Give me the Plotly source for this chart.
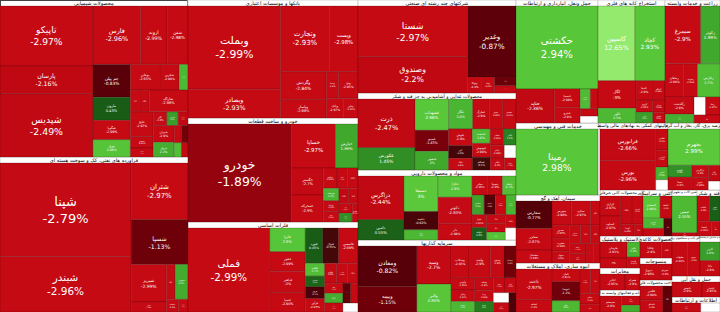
import math
import plotly.graph_objects as go

sector_names = [
    "محصولات شیمیایی",
    "فراورده های نفتی، کک و سوخت هسته ای",
    "بانکها و موسسات اعتباری",
    "خودرو و ساخت قطعات",
    "فلزات اساسی",
    "شرکتهای چند رشته ای صنعتی",
    "محصولات غذایی و آشامیدنی به جز قند و شکر",
    "مواد و محصولات دارویی",
    "سرمایه گذاریها",
    "حمل ونقل، انبارداری و ارتباطات",
    "استخراج کانه های فلزی",
    "زراعت و خدمات وابسته",
    "خدمات فنی و مهندسی",
    "سیمان، آهک و گچ",
    "انبوه سازی، املاک و مستغلات",
    "فعالیتهای کمکی به نهادهای مالی واسط",
    "عرضه برق، گاز، بخار و آب گرم",
    "سایر محصولات کانی غیرفلزی",
    "کاشی و سرامیک",
    "ماشین آلات و تجهیزات",
    "قند و شکر",
    "لاستیک و پلاستیک",
    "مخابرات",
    "رایانه و فعالیتهای وابسته به آن",
    "محصولات کاغذی",
    "منسوجات",
    "ساخت محصولات فلزی",
    "ماشین آلات و دستگاههای برقی",
    "بیمه و صندوق بازنشستگی",
    "حمل و نقل آبی",
    "اطلاعات و ارتباطات",
]

sector_caps = [29516, 29140, 20060, 17680, 15300, 14694, 12166, 11060, 11376,
               10086, 8241, 6765, 6048, 5712, 4116, 4556, 3484,
               1978, 1334, 1150, 1058, 1280, 880, 880, 704, 704, 1024,
               1120, 800, 1008, 720]

stock_symbols = [
    ["تاپیکو", "پارسان", "شپدیس", "فارس", "اروند", "شفن", "جم پیلن", "مارون", "شگویا", "نوری",
     "بوعلی", "شکربن", "شکلر", "شسینا", "شلعاب", "شاراک", "خلیج", "شبصیر", "شصدف", "کلر",
     "شدوص", "شپارس", "شیران", "پترول", "شفارس", "شاملا", "شکام", "شتوکا"],
    ["شپنا", "شبندر", "شتران", "شسپا", "شبریز", "شراز", "شاوان", "شبهرن", "شنفت", "شرانل"],
    ["وبملت", "وبصادر", "وتجارت", "وپست", "وگردش", "وپاسار", "وسینا", "ودی", "وبانک", "وخاور"],
    ["خودرو", "خساپا", "خپارس", "خگستر", "خمحرکه", "خکاوه", "خفنر", "خوساز", "خریخت", "خزامیا",
     "ختور", "خمهر", "خچرخش", "خاور", "خرینگ", "خشرق"],
    ["فملی", "فایرا", "فخوز", "فباهنر", "فسپا", "فنورد", "فنوال", "فاسمین", "فکاوه", "فگستر",
     "فروی", "فرآور", "فالوم", "فسرب", "فپنتا", "فاما", "فزرین", "فلوله", "فجام", "فافزا", "فوکا"],
    ["شستا", "وصندوق", "وغدیر", "وتوکا", "وصنا", "وپترو", "وتوشه"],
    ["ذرت", "غکورش", "غشهداب", "غمینو", "غبشهر", "غگل", "غمارگ", "غپینو", "غصینو", "غنوش",
     "غزر", "غپاک", "غدشت", "غبهنوش", "غسالم", "غشان", "غاذر", "غدام", "غپآذر", "غفارس", "غویتا"],
    ["دزاگرس", "دامین", "دسبحا", "دعبید", "دالبر", "دفارا", "دکوثر", "دلر", "دجابر", "دسینا",
     "دتماد", "دکیمی", "داسوه", "دشیمی", "دپارس", "دفرا", "دتولید", "درازک", "دیران", "دکپسول",
     "دتوزیع", "دالحاوی"],
    ["ومعادن", "وبیمه", "وسپه", "والبر", "وسکاب", "وامید", "وسپهر", "وسمان", "وآتوس", "ونیکی",
     "وسالت", "وملت", "ورنا", "وساپا", "وسنا", "وکار", "وبوعلی", "وثوق", "وسبحان"],
    ["حکشتی", "حتاید", "حسینا", "حپترو", "حفارس", "حآسا", "حریل", "حپارسا"],
    ["کاسپین", "کچاد", "کگل", "کگهر", "کدما", "کمنگنز", "کروی", "کنور", "کزغال", "کطبس"],
    ["سیمرغ", "زکوثر", "زماهان", "زشریف", "زفارس", "زگلدشت", "زملارد", "زدشت", "زبینا", "زپارس"],
    ["رمپنا", "ریشمک"],
    ["سفارس", "سخزر", "سشمال", "سهرمز", "سکرد", "ساوه", "سدور", "سغرب", "سبهان", "سصوفی",
     "ستران", "سخاش", "سپاها", "سقاین", "سارود", "سیلام"],
    ["ثاخت", "ثشاهد", "ثامان", "ثنوسا", "ثباغ", "ثعمرا", "ثپردیس", "ثمسکن", "ثغرب"],
    ["فرابورس", "بورس", "اطلس", "کارگزاری", "امین", "ثبات"],
    ["بجهرم", "بکهنوج", "بمپنا", "بزاگرس", "بنیرو", "بتک", "بپیوند"],
    ["کرازی", "کساوه", "کفرا", "کسرام", "کهمدا", "کباده"],
    ["کسعدی", "کحافظ", "کمرجان", "کپرور", "کسرا"],
    ["تپمپی", "تکنو"],
    ["قثابت", "قشیر", "قنیشا", "قپیرا"],
    ["پکرمان", "پاکشو", "پتایر", "پلاست"],
    ["اخابر", "همراه"],
    ["سیستم", "مفاخر", "رتکو"],
    ["چکاپا", "چفیبر"],
    ["نبروج", "نمرینو"],
    ["فلامی", "تاصیکو", "فسازان"],
    ["بشهاب", "بموتو"],
    ["البرز", "دانا"],
    ["حسیر", "حبندر"],
    ["اپرداز", "افق"],
]

stock_weights = [
    [5400, 2500, 5700, 2700, 1500, 1180, 1190, 840, 700, 630, 735, 480, 220, 200, 200, 816, 550,
     250, 200, 180, 150, 130, 340, 300, 120, 110, 100, 90],
    [12100, 7180, 3190, 2500, 1300, 350, 300, 450, 150, 120],
    [7371, 2548, 3072, 1792, 1216, 800, 312, 494, 325, 273],
    [9476, 1806, 924, 800, 800, 260, 200, 200, 180, 160, 150, 140, 130, 120, 110, 100],
    [6642, 810, 675, 729, 660, 600, 540, 660, 240, 200, 220, 250, 230, 210, 200, 180, 170, 160,
     150, 140, 130],
    [5390, 3850, 3337, 220, 200, 180, 150],
    [2784, 1276, 1050, 700, 630, 725, 500, 400, 396, 396, 300, 280, 260, 250, 230, 220, 200, 180,
     170, 150, 140],
    [2021, 940, 1221, 630, 350, 728, 910, 552, 300, 280, 260, 240, 220, 210, 200, 190, 180, 170,
     160, 150, 140, 130],
    [2470, 1560, 1350, 990, 594, 700, 450, 400, 300, 280, 260, 240, 220, 200, 180, 170, 160, 150, 140],
    [6720, 1290, 475, 400, 200, 150, 130, 120],
    [2738, 2220, 1036, 558, 300, 250, 200, 180, 150, 130],
    [1995, 1080, 594, 450, 720, 480, 250, 200, 250, 200],
    [5229, 120],
    [960, 750, 450, 450, 450, 220, 220, 220, 200, 200, 180, 170, 160, 150, 140, 120],
    [1050, 420, 340, 506, 300, 250, 220, 200, 150],
    [1696, 1590, 250, 200, 150, 120],
    [1849, 276, 300, 200, 200, 180, 100],
    [400, 400, 300, 300, 150, 100],
    [360, 250, 200, 150, 140],
    [920, 80],
    [300, 250, 200, 120],
    [400, 250, 180, 130],
    [350, 210],
    [300, 150, 110],
    [300, 148],
    [250, 198],
    [300, 250, 218],
    [500, 396],
    [350, 290],
    [500, 300],
    [300, 200],
]

stock_changes = [
    [-2.97, -2.16, -2.49, -2.96, -2.99, -2.98, -0.83, 0.43, -2.99, 2.86, -2.93, -2.98, 2.5, -2.9,
     -2.95, -2.98, -2.97, -2.92, -2.96, -2.8, 1.8, -2.6, -2.9, 2.2, -2.9, -1.2, 2.7, -2.98],
    [-2.79, -2.96, -2.97, -1.13, -2.99, -2.98, -2.98, 2.1, -2.9, -2.95],
    [-2.99, -2.93, -2.93, -2.98, -2.84, -2.99, -2.9, -2.95, -2.97, -2.92],
    [-1.89, -2.97, 1.99, -2.7, -2.9, -2.95, -2.9, -2.98, 2.4, -2.92, -2.96, -2.6, -2.99, -2.9, 1.5, -2.97],
    [-2.99, 2.9, -2.99, -3.0, -2.96, 0.45, -0.55, -2.99, 2.7, 0.6, -0.7, -2.95, -2.9, -2.98, -2.94,
     -2.9, 2.2, -2.97, -0.9, -2.99, None],
    [-2.97, -2.2, -0.87, -2.9, -2.95, -1.0, -2.98],
    [-2.47, 1.45, 2.98, -1.45, 2.0, 2.4, -2.9, -2.95, -2.97, -2.9, -0.6, -2.8, 2.6, -2.99, -0.5,
     -2.93, 1.2, -2.96, -2.9, None, -2.98],
    [-2.44, 0.55, 3.0, -0.62, 2.5, 2.9, -2.83, -2.99, -2.95, -2.9, 2.7, 1.9, -0.8, -2.97, 2.4,
     -2.92, 0.5, -2.98, -2.9, 2.8, -2.96, None],
    [-0.82, -1.15, -2.7, 2.95, -2.85, -2.9, -2.8, -1.2, -2.95, -2.97, 2.5, -2.9, -2.99, 1.1, -2.93,
     -2.9, None, -2.96, -0.7],
    [2.94, -2.36, -2.99, -2.9, 2.6, -2.95, -2.9, None],
    [12.65, 2.93, -3.0, 2.5, -2.9, -2.99, -2.95, 1.8, -2.98, -2.9],
    [-2.9, 1.99, -2.99, -2.95, 2.7, -2.9, 2.2, None, -2.97, -2.9],
    [2.98, None],
    [-0.77, -2.87, -2.99, -2.98, -2.97, -2.99, -2.95, -2.98, -2.9, -2.96, -2.99, -2.93, -2.97,
     -2.9, -2.98, -2.95],
    [-2.97, -2.9, -2.95, -1.2, 2.5, -2.98, -2.9, -2.96, -2.99],
    [-2.66, -2.96, -2.9, -2.95, 2.3, None],
    [2.99, 1.5, -2.8, -2.9, -2.95, -2.5, None],
    [-2.97, -2.97, -2.88, -2.9, -2.95, -2.9],
    [2.98, -2.9, 2.5, -2.95, -0.8],
    [2.55, -2.9],
    [-2.9, 0.5, -2.95, -2.9],
    [-2.93, -2.9, 2.4, -2.97],
    [-2.95, -2.9],
    [-2.9, -2.97, 2.1],
    [-2.9, -2.95],
    [-2.96, -2.9],
    [-2.98, -2.9, -0.9],
    [-2.99, -2.9],
    [1.8, -2.9],
    [-2.9, -2.95],
    [-2.95, None],
]

W, H = 720, 312
HEADER = 6  # header band thickness (px) of each sector
PADDING = "\u00a0" * 5  # keeps shrunken header texts inside their own band

COLOR_STOPS = [
    (-3.0, (198, 10, 20)), (-2.1, (190, 8, 18)), (-1.8, (132, 2, 12)), (-1.0, (106, 0, 10)),
    (-0.7, (76, 0, 8)), (0.0, (42, 36, 12)), (0.3, (22, 85, 20)), (1.0, (35, 120, 30)),
    (2.0, (64, 168, 45)), (3.0, (90, 200, 58)), (13.0, (150, 235, 110)),
]


def change_color(p):
    if p is None:
        return "rgb(255,255,255)"
    if p <= COLOR_STOPS[0][0]:
        return "rgb(%d,%d,%d)" % COLOR_STOPS[0][1]
    for (a, ca), (b, cb) in zip(COLOR_STOPS, COLOR_STOPS[1:]):
        if p <= b:
            t = (p - a) / (b - a)
            c = tuple(round(ca[i] + (cb[i] - ca[i]) * t) for i in range(3))
            return "rgb(%d,%d,%d)" % c
    return "rgb(%d,%d,%d)" % COLOR_STOPS[-1][1]


def fmt_pct(p):
    return ("%.2f" % p).rstrip("0").rstrip(".") + "%"


total_cap = float(sum(sector_caps))
ids, labels, parents, values, texts = [], [], [], [], []
colors, line_colors, line_widths, font_sizes, font_colors = [], [], [], [], []

for s_name, cap, syms, wts, chgs in zip(sector_names, sector_caps, stock_symbols,
                                         stock_weights, stock_changes):
    ids.append(s_name)
    labels.append(s_name)
    parents.append("")
    values.append(0)
    texts.append(PADDING + s_name + PADDING)
    colors.append("rgb(255,255,255)")
    line_colors.append("rgb(210,210,210)")
    line_widths.append(1)
    font_sizes.append(11)
    font_colors.append("rgb(0,0,0)")
    wsum = float(sum(wts))
    for sym, w, ch in zip(syms, wts, chgs):
        v = cap * w / wsum
        ids.append(s_name + "/" + sym)
        labels.append(sym)
        parents.append(s_name)
        values.append(v)
        texts.append("" if ch is None else sym + "<br>" + fmt_pct(ch))
        colors.append(change_color(ch))
        line_colors.append("rgba(40,0,0,0.35)")
        line_widths.append(0.6)
        px_area = v / total_cap * W * H
        font_sizes.append(max(3.0, min(13.0, 0.12 * math.sqrt(px_area))))
        font_colors.append("rgb(255,255,255)")

fig = go.Figure(go.Treemap(
    ids=ids,
    labels=labels,
    parents=parents,
    values=values,
    text=texts,
    branchvalues="remainder",
    sort=False,
    textinfo="text",
    textposition="middle center",
    textfont=dict(family="DejaVu Sans", size=font_sizes, color=font_colors),
    marker=dict(colors=colors, line=dict(color=line_colors, width=line_widths),
                pad=dict(t=HEADER, l=0, r=0, b=0), depthfade=False),
    tiling=dict(packing="squarify", squarifyratio=1.618034, pad=0),
    pathbar=dict(visible=False),
    hoverinfo="skip",
    root=dict(color="rgb(255,255,255)"),
))

# The implicit root of a multi-root treemap also gets a header band; make the
# figure that much taller and scroll that empty band out of the view.
fig.update_layout(
    width=W, height=H + HEADER,
    margin=dict(l=0, r=0, t=0, b=0),
    paper_bgcolor="white",
)

fig.write_html(
    "out.html",
    post_script="document.getElementById('{plot_id}').style.marginTop='-%dpx';" % HEADER,
)
